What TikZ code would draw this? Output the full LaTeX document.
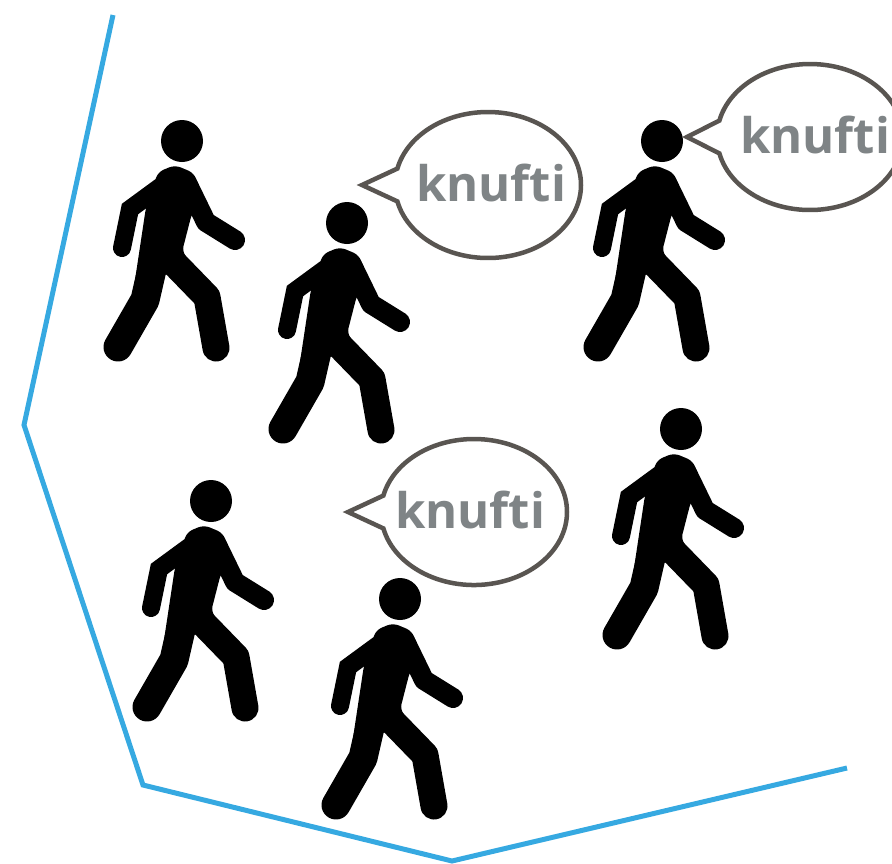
\documentclass[tikz,border=0pt]{standalone}
\usepackage{fontspec}
\setmainfont{Open Sans}
\usetikzlibrary{shapes.callouts}
\definecolor{hullblue}{HTML}{36A9E1}
\definecolor{bubbleline}{HTML}{595551}
\definecolor{wordgrey}{HTML}{7F8486}
\tikzset{
  hull_line/.style = {draw=hullblue, line width=5pt},
  say_n/.style = {ellipse callout, draw=bubbleline, line width=4.5pt, fill=white,
    minimum width=186pt, minimum height=146pt, inner sep=0pt, callout pointer arc=26},% speech bubble
  word_n/.style = {inner sep=0pt, text=wordgrey, font=\fontsize{49}{49}\selectfont\bfseries},
  walker/.pic = {
    \node [circle, fill=black, inner sep=0pt, minimum size=42pt] (-head) at (0,1) {};
    \fill [black, rounded corners=6pt] (-7,25) -- (12,33) -- (22,60) -- (10,73) -- (0,112)
      -- (36,153) -- (-17,133) -- (-50,160) -- (-36,67) -- (-24,32) -- cycle;
    \draw [black, line width=20pt, line cap=round, line join=round] (6,45) -- (24,82) -- (53,100);
    \draw [black, line width=18pt, line cap=round, line join=miter] (-22,47) -- (-52,69) -- (-60,108);
    \draw [black, line width=29pt, line cap=round, line join=round] (-29,125) -- (-37,160) -- (-64,207);
    \draw [black, line width=27pt, line cap=round, line join=round] (-9,122) -- (25,157) -- (34,208);
  }
}
\begin{document}
\begin{tikzpicture}[x=1pt,y=-1pt]
  \useasboundingbox (0,0) rectangle (892,863);
  \coordinate (h1) at (113,15);
  \coordinate (h2) at (24,425);
  \coordinate (h3) at (143,785);
  \coordinate (h4) at (452,861);
  \coordinate (h5) at (847,768);
  \draw [hull_line] (h1) -- (h2) -- (h3) -- (h4) -- (h5);
  \pic (w1) at (182,140) {walker};
  \pic (w2) at (347,222) {walker};
  \pic (w3) at (662,140) {walker};
  \pic (w4) at (681,428) {walker};
  \pic (w5) at (211,500) {walker};
  \pic (w6) at (400,598) {walker};
  \node [say_n, callout absolute pointer={(362,185)}] (say1) at (488,185) {};
  \node [say_n, callout absolute pointer={(687,137)}] (say2) at (810,137) {};
  \node [say_n, callout absolute pointer={(348,512)}] (say3) at (474,512) {};
  \node [word_n] (word1) at (491,183) {knufti};
  \node [word_n] (word2) at (815,135) {knufti};
  \node [word_n] (word3) at (470,510) {knufti};
\end{tikzpicture}
\end{document}
